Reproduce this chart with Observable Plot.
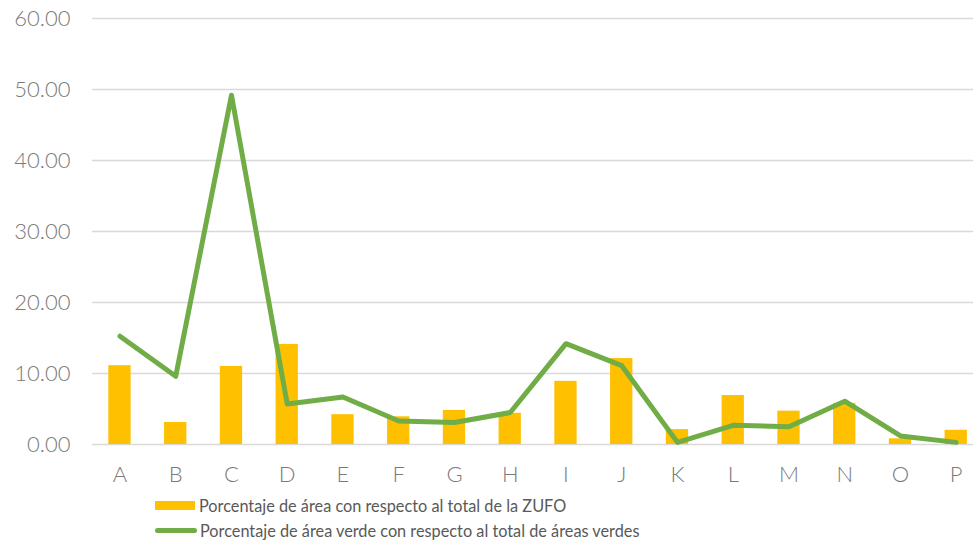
<!DOCTYPE html>
<html>
<head>
<meta charset="utf-8">
<script src="https://cdn.jsdelivr.net/npm/d3@7"></script>
<script src="https://cdn.jsdelivr.net/npm/@observablehq/plot@0.6"></script>
<style>
  body { margin: 0; background: #fff; }
  #wrap { position: relative; width: 973px; height: 545px; font-family: "Lato", sans-serif; }
  .leg { position: absolute; left: 155px; font-size: 16.3px; color: #595959; display: flex; align-items: center; white-space: nowrap; }
  .sw1 { width: 40px; height: 9px; background: #FFC000; margin-right: 4px; }
  .sw2 { width: 42px; height: 5px; background: #70AD47; border-radius: 3px; margin-right: 3px; }
</style>
</head>
<body>
<div id="wrap">
  <div id="chart"></div>
  <div class="leg" style="top:496px;"><div class="sw1"></div><span>Porcentaje de área con respecto al total de la ZUFO</span></div>
  <div class="leg" style="top:521px;"><div class="sw2"></div><span>Porcentaje de área verde con respecto al total de áreas verdes</span></div>
</div>
<script>
const categories = ["A","B","C","D","E","F","G","H","I","J","K","L","M","N","O","P"];
const areaZufo = [11.1, 3.1, 11.0, 14.1, 4.2, 3.9, 4.8, 4.4, 8.9, 12.1, 2.1, 6.9, 4.7, 5.8, 0.8, 2.0];
const areaVerde = [15.25, 9.6, 49.2, 5.7, 6.7, 3.3, 3.1, 4.5, 14.2, 11.1, 0.3, 2.7, 2.5, 6.1, 1.2, 0.3];
const yTicks = [0, 10, 20, 30, 40, 50, 60];

const data = categories.map((c, i) => ({cat: c, zufo: areaZufo[i], verde: areaVerde[i]}));

const chart = Plot.plot({
  width: 973,
  height: 490,
  marginTop: 18,
  marginBottom: 46,
  marginLeft: 92,
  marginRight: 0,
  style: {fontFamily: "Lato, sans-serif", color: "#595959", background: "#fff"},
  x: {domain: categories, range: [91.6, 983.6], paddingInner: 0.6, paddingOuter: 0.3, align: 0.5, round: false},
  y: {domain: [0, 60], range: [444, 18]},
  marks: [
    Plot.gridY(yTicks, {stroke: "#d9d9d9", strokeOpacity: 1, strokeWidth: 1.5}),
    Plot.barY(data, {x: "cat", y: "zufo", fill: "#FFC000"}),
    Plot.line(data, {x: "cat", y: "verde", stroke: "#70AD47", strokeWidth: 5, strokeLinejoin: "round", strokeLinecap: "round"}),
    Plot.axisY(yTicks, {tickSize: 0, tickPadding: 22, fontSize: 22, fill: "#7a7a7a", fontWeight: 300, tickFormat: d => d.toFixed(2), label: null}),
    Plot.axisX({tickSize: 0, tickPadding: 22, fontSize: 22, fill: "#7a7a7a", fontWeight: 300, label: null})
  ]
});
document.getElementById("chart").appendChild(chart);
</script>
</body>
</html>
